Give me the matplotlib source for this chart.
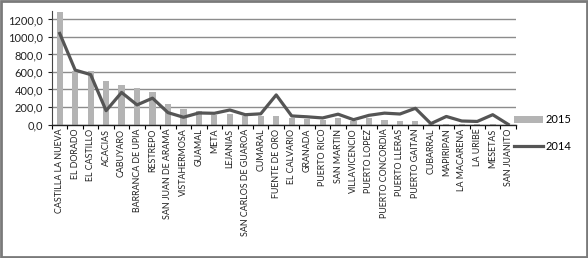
import matplotlib
matplotlib.use("Agg")
import matplotlib.pyplot as plt
from matplotlib.patches import Rectangle
from matplotlib.ticker import FuncFormatter, FixedLocator
import numpy as np

categories = ["CASTILLA LA NUEVA", "EL DORADO", "EL CASTILLO", "ACACIAS", "CABUYARO",
              "BARRANCA DE UPIA", "RESTREPO", "SAN JUAN DE ARAMA", "VISTAHERMOSA", "GUAMAL",
              "META", "LEJANIAS", "SAN CARLOS DE GUAROA", "CUMARAL", "FUENTE DE ORO",
              "EL CALVARIO", "GRANADA", "PUERTO RICO", "SAN MARTIN", "VILLAVICENCIO",
              "PUERTO LOPEZ", "PUERTO CONCORDIA", "PUERTO LLERAS", "PUERTO GAITAN", "CUBARRAL",
              "MAPIRIPAN", "LA MACARENA", "LA URIBE", "MESETAS", "SAN JUANITO"]
v2015 = [1290, 610, 615, 496, 454, 416, 366, 236, 178, 159,
         105, 120, 92, 100, 92, 72, 60, 55, 70, 45,
         70, 48, 36, 36, 3, 3, 3, 3, 3, 0]
v2014 = [1040, 622, 570, 158, 366, 224, 301, 136, 83, 132,
         128, 166, 112, 122, 338, 98, 88, 75, 118, 55,
         105, 130, 120, 185, 10, 92, 40, 35, 112, 2]
yticks = [0, 200, 400, 600, 800, 1000, 1200]

plt.rcParams['font.family'] = ['Lato', 'DejaVu Sans']

fig = plt.figure(figsize=(5.88, 2.58), dpi=100)
ax = fig.add_axes([0.0884, 0.5174, 0.789, 0.4411])

x = np.arange(len(categories))
ax.bar(x, v2015, width=0.4, color="#b4b4b4", label="2015", zorder=2)
ax.plot(x, v2014, color="#555555", linewidth=2.3, label="2014", zorder=3)

ax.set_xlim(-0.5, len(categories) - 0.5)
ax.set_ylim(0, 1300)
ax.set_yticks(yticks)
ax.yaxis.set_major_formatter(FuncFormatter(lambda v, p: f"{v:.1f}".replace(".", ",")))
ax.grid(axis="y", color="#8c8c8c", linewidth=1.0, zorder=0)
ax.set_axisbelow(True)

ax.set_xticks(x)
ax.set_xticklabels(categories, rotation=90, fontsize=6.4, color="#222222")
ax.tick_params(axis="x", which="major", length=0, pad=3)
ax.xaxis.set_minor_locator(FixedLocator(np.arange(-0.5, len(categories), 1.0)))
ax.tick_params(axis="x", which="minor", length=3, width=0.8, direction="out")
ax.tick_params(axis="y", labelsize=8, length=3, width=0.8, colors="#222222")

for s in ["top", "right"]:
    ax.spines[s].set_visible(False)
ax.spines["left"].set_color("#444444")
ax.spines["bottom"].set_color("#222222")
ax.spines["bottom"].set_linewidth(1.0)

h, l = ax.get_legend_handles_labels()
leg = fig.legend([h[1], h[0]], [l[1], l[0]], loc="upper left",
                 bbox_to_anchor=(0.857, 0.595), frameon=False, fontsize=8,
                 handlelength=2.6, handletextpad=0.2, labelspacing=1.4)

fig.patches.append(Rectangle((0.002, 0.004), 0.996, 0.992, transform=fig.transFigure,
                             fill=False, edgecolor="#7a7a7a", linewidth=2.0))

fig.savefig("out.png", dpi=100)
